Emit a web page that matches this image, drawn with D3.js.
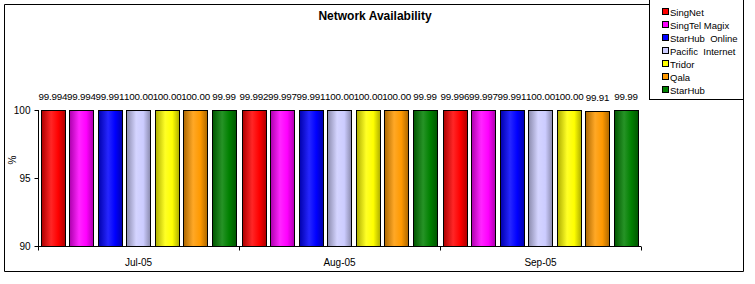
<!DOCTYPE html>
<html lang="en">
<head>
  <meta charset="UTF-8">
  <title>Network Availability</title>
  <script src="https://cdn.jsdelivr.net/npm/d3@7"></script>
  <style>
    body { margin: 0; background: #fff; }
    text { font-family: "Liberation Sans", Arial, sans-serif; fill: #000; }
  </style>
</head>
<body>
  <div id="box"></div>
  <script>
    // data
    const months = ['Jul-05', 'Aug-05', 'Sep-05']
    const isps = ['SingNet', 'SingTel Magix', 'StarHub  Online', 'Pacific  Internet', 'Tridor', 'Qala', 'StarHub']
    const ispColors = ['#ff0000', '#ff00ff', '#0000ff', '#ccccff', '#ffff00', '#ff9900', '#008000']
    const singNet = [99.994, 99.992, 99.996]
    const singTelMagix = [99.994, 99.997, 99.997]
    const starHubOnline = [99.991, 99.991, 99.991]
    const pacificInternet = [100.00, 100.00, 100.00]
    const tridor = [100.00, 100.00, 100.00]
    const qala = [100.00, 100.00, 99.91]
    const starHub = [99.99, 99.99, 99.99]
    const series = [singNet, singTelMagix, starHubOnline, pacificInternet, tridor, qala, starHub]
    const yTicks = [90, 95, 100]

    const width = 755
    const height = 284
    const plot = { left: 38, right: 641, top: 110, bottom: 246 }

    const svg = d3.select('#box').append('svg')
      .attr('width', width)
      .attr('height', height)

    // gradients for the cylinder look
    const defs = svg.append('defs')
    ispColors.forEach((c, i) => {
      const g = defs.append('linearGradient').attr('id', 'g' + i)
        .attr('x1', 0).attr('x2', 1).attr('y1', 0).attr('y2', 0)
      const dark = d3.color(c).darker(1.1)
      const light = d3.interpolateRgb(c, '#fff')(0.15)
      g.append('stop').attr('offset', '0%').attr('stop-color', dark)
      g.append('stop').attr('offset', '40%').attr('stop-color', light)
      g.append('stop').attr('offset', '70%').attr('stop-color', c)
      g.append('stop').attr('offset', '100%').attr('stop-color', dark)
    })

    // chart border
    svg.append('path')
      .attr('d', `M4.5,271.5 V4.5 H649.5 M649.5,99.5 H743.5 V271.5 H4.5`)
      .attr('fill', 'none').attr('stroke', '#000')

    // title
    svg.append('text')
      .attr('x', 375).attr('y', 20)
      .attr('text-anchor', 'middle')
      .attr('font-weight', 'bold')
      .attr('font-size', 12)
      .text('Network Availability')

    // scales
    const x0 = d3.scaleBand().domain(months).range([plot.left, plot.right])
    const x1 = d3.scaleBand().domain(isps).range([0, x0.bandwidth()])
      .paddingInner(0.15).paddingOuter(0.1)
    const y = d3.scaleLinear().domain([90, 100]).range([plot.bottom, plot.top])

    // bars
    const groups = svg.append('g').selectAll('g').data(months).join('g')
      .attr('transform', d => `translate(${x0(d)},0)`)

    groups.selectAll('rect')
      .data((m, mi) => isps.map((name, k) => ({ name, k, v: series[k][mi] })))
      .join('rect')
      .attr('x', d => Math.round(x1(d.name)) + 0.5)
      .attr('y', d => Math.round(y(d.v)) + 0.5)
      .attr('width', Math.round(x1.bandwidth()))
      .attr('height', d => y(90) - Math.round(y(d.v)))
      .attr('fill', d => `url(#g${d.k})`)
      .attr('stroke', '#000')

    groups.selectAll('text')
      .data((m, mi) => isps.map((name, k) => ({ name, k, v: series[k][mi] })))
      .join('text')
      .attr('x', d => x1(d.name) + x1.bandwidth() / 2)
      .attr('y', d => y(d.v) - 10)
      .attr('text-anchor', 'middle')
      .attr('font-size', 9.8)
      .attr('letter-spacing', -0.2)
      .text(d => d.v === 100 ? '100.00' : String(d.v))

    // x axis
    const xAxis = svg.append('g').attr('transform', `translate(0,${plot.bottom + 0.5})`)
    xAxis.append('line')
      .attr('x1', plot.left).attr('x2', plot.right)
      .attr('stroke', '#000')
    const bounds = months.map(m => x0(m)).concat([plot.right])
    xAxis.selectAll('.sep').data(bounds).join('line')
      .attr('x1', d => Math.round(d) + 0.5).attr('x2', d => Math.round(d) + 0.5)
      .attr('y1', 0).attr('y2', 4)
      .attr('stroke', '#000')
    xAxis.selectAll('text').data(months).join('text')
      .attr('x', d => x0(d) + x0.bandwidth() / 2)
      .attr('y', 19)
      .attr('text-anchor', 'middle')
      .attr('font-size', 10)
      .text(d => d)

    // y axis
    const yAxis = d3.axisLeft(y).tickValues(yTicks).tickSize(4).tickPadding(4)
    svg.append('g')
      .attr('transform', `translate(${plot.left + 0.5},0)`)
      .call(yAxis)
      .call(g => g.select('.domain').attr('d', `M0,${plot.top}V${plot.bottom}`))
      .call(g => g.selectAll('text').attr('font-size', 10)
        .attr('font-family', '"Liberation Sans", Arial, sans-serif'))

    svg.append('text')
      .attr('transform', 'translate(16,160) rotate(-90)')
      .attr('text-anchor', 'middle')
      .attr('font-size', 10)
      .text('%')

    // legend
    const legend = svg.append('g')
    legend.append('rect')
      .attr('x', 649.5).attr('y', -0.5)
      .attr('width', 94).attr('height', 100)
      .attr('fill', '#fff').attr('stroke', '#000')
    const ly = d3.scalePoint().domain(isps).range([12, 90])
    legend.selectAll('rect.sw').data(isps).join('rect')
      .attr('class', 'sw')
      .attr('x', 662.5).attr('y', d => Math.round(ly(d)) - 3.5)
      .attr('width', 6).attr('height', 6)
      .attr('fill', (d, i) => ispColors[i])
      .attr('stroke', '#000')
    legend.selectAll('text').data(isps).join('text')
      .attr('x', 670).attr('y', d => ly(d) + 3.5)
      .attr('font-size', 9.5)
      .attr('xml:space', 'preserve')
      .style('white-space', 'pre')
      .text(d => d)
  </script>
</body>
</html>
